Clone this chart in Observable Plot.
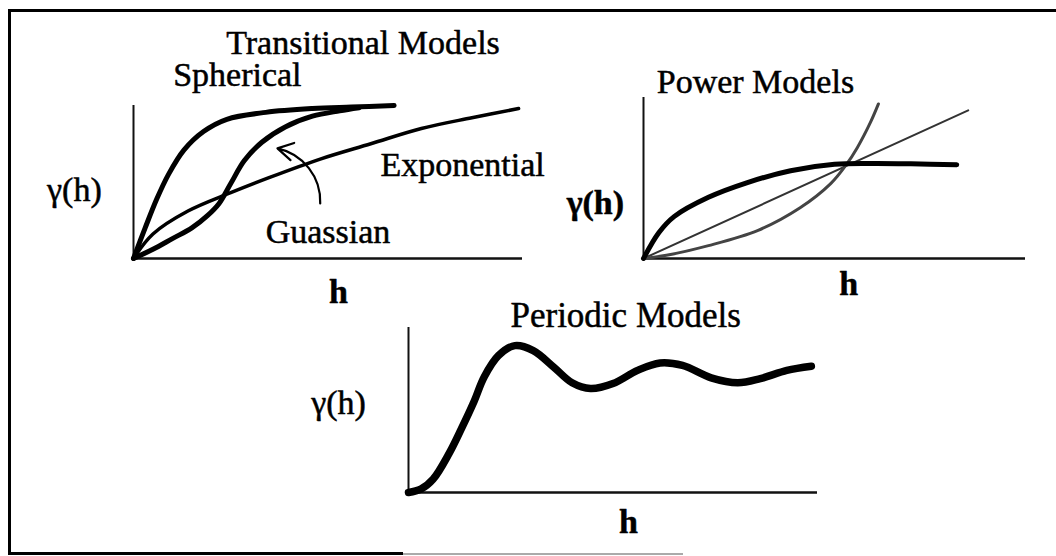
<!DOCTYPE html>
<html>
<head>
<meta charset="utf-8">
<script src="https://cdn.jsdelivr.net/npm/d3@7"></script>
<script src="https://cdn.jsdelivr.net/npm/@observablehq/plot@0.6"></script>
<style>
  html, body { margin: 0; padding: 0; background: #fff; }
  #chart { position: relative; width: 1056px; height: 556px; overflow: hidden; }
  #chart svg { position: absolute; left: 0; top: 0; }
  .edge { position: absolute; background: #000; }
</style>
</head>
<body>
<div id="chart"></div>
<script>
// Transitional variogram models (lag h vs. semivariance γ(h), arbitrary units)
const sphericalH = [0, 0.3, 0.6, 0.9, 1.3, 1.8, 2.4, 3.4, 4.6, 5.6, 6.7];
const sphericalG = [0, 2.0, 3.9, 5.5, 7.1, 8.3, 9.1, 9.55, 9.8, 9.9, 10.0];
const gaussianH = [0, 0.5, 1.0, 1.5, 1.9, 2.2, 2.5, 2.85, 3.3, 3.9, 4.6, 5.3, 5.8];
const gaussianG = [0, 0.6, 1.3, 2.0, 2.8, 3.6, 4.9, 6.4, 7.6, 8.6, 9.3, 9.65, 9.85];
const exponentialH = [0, 0.5, 1.4, 2.5, 3.5, 4.8, 6.1, 7.4, 8.7, 9.9];
const exponentialG = [0, 1.6, 3.1, 4.3, 5.3, 6.5, 7.5, 8.5, 9.2, 9.8];

// Power models
const concaveH = [0, 0.4, 0.8, 1.7, 2.7, 3.85, 5.0, 6.0, 7.0, 8.2];
const concaveG = [0, 1.6, 2.6, 3.8, 4.7, 5.45, 5.85, 5.9, 5.88, 5.82];
const linearH = [0, 8.5];
const linearG = [0, 9.2];
const convexH = [0, 0.6, 1.7, 3.0, 4.1, 4.9, 5.3, 5.6, 5.95, 6.15];
const convexG = [0, 0.2, 0.8, 1.75, 3.15, 4.65, 5.8, 6.9, 8.5, 9.6];

// Periodic (hole-effect) model
const periodicH = [0, 0.3, 0.6, 1.0, 1.3, 1.6, 1.85, 2.2, 2.6, 3.05, 3.55, 4.0, 4.45, 5.0, 5.6, 6.15, 6.7, 7.4, 8.05, 8.6, 9.25, 9.85];
const periodicG = [0, 0.2, 0.8, 2.4, 3.9, 5.5, 7.0, 8.3, 8.9, 8.6, 7.6, 6.65, 6.3, 6.6, 7.4, 7.85, 7.7, 6.95, 6.65, 6.9, 7.4, 7.65];

const W = 1056, H = 556;
const serif = "'Liberation Serif', 'Times New Roman', serif";

// Each panel is a full-size transparent SVG whose frame is the panel's axes box
function panel({left, right, top, bottom}, marks) {
  return Plot.plot({
    width: W, height: H,
    marginLeft: left, marginRight: W - right,
    marginTop: top, marginBottom: H - bottom,
    x: {domain: [0, 10], axis: null},
    y: {domain: [0, 10], axis: null},
    style: {background: "transparent", overflow: "visible", fontFamily: serif},
    marks
  });
}

const curve = (hs, gs, o) => Plot.line(hs, {x: hs, y: gs, curve: "catmull-rom", strokeLinecap: "round", strokeLinejoin: "round", ...o});
const axes = () => [
  Plot.ruleX([0], {stroke: "#111", strokeWidth: 2}),
  Plot.ruleY([0], {stroke: "#111", strokeWidth: 2.5})
];
const label = (t, x, y, o = {}) => Plot.text([t], {
  x: () => x, y: () => y, text: d => d, fontSize: 34,
  fill: "#000", stroke: "#000", strokeWidth: 0.5, ...o
});

const transitional = panel({left: 133, right: 522, top: 105, bottom: 258}, [
  ...axes(),
  curve(exponentialH, exponentialG, {stroke: "#000", strokeWidth: 3.5}),
  curve(gaussianH, gaussianG, {stroke: "#000", strokeWidth: 5}),
  curve(sphericalH, sphericalG, {stroke: "#000", strokeWidth: 5}),
  Plot.arrow([0], {x1: () => 4.8, y1: () => 3.6, x2: () => 3.7, y2: () => 7.2, bend: -40, headLength: 12, strokeWidth: 2.2, stroke: "#000"}),
  label("Transitional Models", 5.9, 14.1),
  label("Spherical", 2.67, 12.0),
  label("Exponential", 8.46, 6.1),
  label("Guassian", 5.0, 1.7),
  label("γ(h)", -1.52, 4.44),
  label("h", 5.27, -2.2, {fontWeight: "bold"})
]);

const power = panel({left: 643, right: 1025, top: 97, bottom: 258}, [
  ...axes(),
  curve(linearH, linearG, {stroke: "#333", strokeWidth: 2}),
  curve(convexH, convexG, {stroke: "#444", strokeWidth: 3}),
  curve(concaveH, concaveG, {stroke: "#000", strokeWidth: 5}),
  label("Power Models", 2.93, 10.93),
  label("γ(h)", -1.26, 3.42, {fontWeight: "bold"}),
  label("h", 5.37, -1.62, {fontWeight: "bold"})
]);

const periodic = panel({left: 408, right: 817, top: 327, bottom: 492}, [
  ...axes(),
  curve(periodicH, periodicG, {stroke: "#000", strokeWidth: 7.5}),
  label("Periodic Models", 5.31, 10.7, {fontSize: 35}),
  label("γ(h)", -1.71, 5.4),
  label("h", 5.38, -1.8, {fontWeight: "bold"})
]);

const chart = document.getElementById("chart");
chart.append(transitional, power, periodic);

// Surrounding box: top and left edges solid, bottom edge fading out
const edges = [
  {left: 8, top: 9, width: 1048, height: 3, bg: "#000"},
  {left: 8, top: 9, width: 3, height: 546, bg: "#000"},
  {left: 8, top: 552, width: 395, height: 3, bg: "#000"},
  {left: 403, top: 553, width: 280, height: 2, bg: "#aaa"}
];
for (const e of edges) {
  const d = document.createElement("div");
  d.className = "edge";
  Object.assign(d.style, {left: e.left + "px", top: e.top + "px", width: e.width + "px", height: e.height + "px", background: e.bg});
  chart.append(d);
}
</script>
</body>
</html>
